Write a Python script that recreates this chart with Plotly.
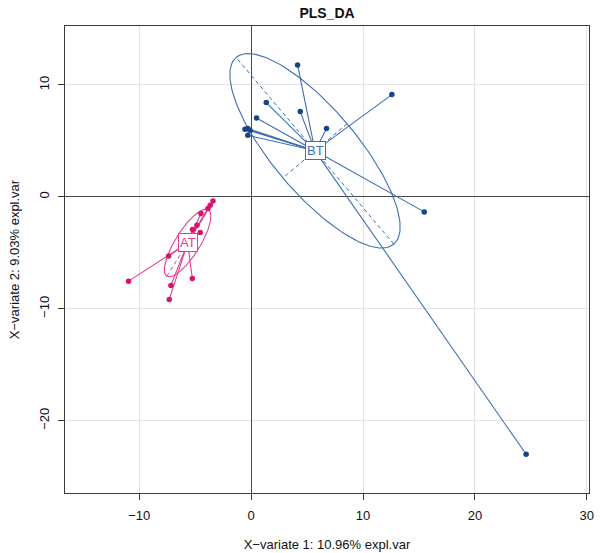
import numpy as np
import plotly.graph_objects as go

# ---- data ----
groups = ["AT", "BT"]
at_x = [-3.41, -3.66, -3.86, -4.49, -4.84, -5.24, -4.55, -7.38, -10.96, -5.26, -7.17, -7.32]
at_y = [-0.36, -0.74, -1.04, -1.48, -2.53, -2.91, -3.18, -5.29, -7.53, -7.29, -7.91, -9.16]
bt_x = [4.15, 12.58, 1.35, 4.39, 0.48, 6.74, 15.47, 24.58, -0.55, -0.30, -0.10, -0.30]
bt_y = [11.79, 9.14, 8.43, 7.62, 7.05, 6.10, -1.34, -23.00, 6.05, 6.10, 5.95, 5.50]

x_ticks = [-10, 0, 10, 20, 30]
y_ticks = [-20, -10, 0, 10]
title = "PLS_DA"
x_label = "X\u2212variate 1: 10.96% expl.var"
y_label = "X\u2212variate 2: 9.03% expl.var"

line_colors = {"AT": "#e0408f", "BT": "#3d6fb3"}
point_colors = {"AT": "#d8136f", "BT": "#16448a"}

FONT = "Liberation Sans, Arial, sans-serif"

fig = go.Figure()


def add_group(name, xs, ys):
    xs = np.asarray(xs, float)
    ys = np.asarray(ys, float)
    cx, cy = xs.mean(), ys.mean()
    cov = np.cov(np.vstack([xs, ys]), bias=True)
    vals, vecs = np.linalg.eigh(cov)
    order = np.argsort(vals)[::-1]
    vals, vecs = vals[order], vecs[:, order]
    sds = np.sqrt(vals)
    t = np.linspace(0, 2 * np.pi, 200)
    ex = cx + sds[0] * np.cos(t) * vecs[0, 0] + sds[1] * np.sin(t) * vecs[0, 1]
    ey = cy + sds[0] * np.cos(t) * vecs[1, 0] + sds[1] * np.sin(t) * vecs[1, 1]
    lc = line_colors[name]
    # ellipse
    fig.add_trace(go.Scatter(x=ex, y=ey, mode="lines",
                             line=dict(color=lc, width=1.1), hoverinfo="skip", showlegend=False))
    # ellipse axes (dashed)
    ax_x, ax_y = [], []
    for k in range(2):
        ax_x += [cx - sds[k] * vecs[0, k], cx + sds[k] * vecs[0, k], None]
        ax_y += [cy - sds[k] * vecs[1, k], cy + sds[k] * vecs[1, k], None]
    fig.add_trace(go.Scatter(x=ax_x, y=ax_y, mode="lines",
                             line=dict(color=lc, width=1, dash="4px,3px"),
                             hoverinfo="skip", showlegend=False))
    # stars
    sx, sy = [], []
    for x, y in zip(xs, ys):
        sx += [cx, x, None]
        sy += [cy, y, None]
    fig.add_trace(go.Scatter(x=sx, y=sy, mode="lines",
                             line=dict(color=lc, width=1.1), hoverinfo="skip", showlegend=False))
    # points
    fig.add_trace(go.Scatter(x=xs, y=ys, mode="markers", name=name,
                             marker=dict(color=point_colors[name], size=5.5),
                             showlegend=False))
    fig.add_annotation(x=cx, y=cy, text=name, showarrow=False,
                       font=dict(family=FONT, size=13, color=lc),
                       bgcolor="white", bordercolor=lc, borderwidth=1, borderpad=1)


add_group("AT", at_x, at_y)
add_group("BT", bt_x, bt_y)

axis_common = dict(
    automargin=False,
    showgrid=True, gridcolor="#e3e3e3", gridwidth=1,
    zeroline=True, zerolinecolor="#4a4a4a", zerolinewidth=1.4,
    showline=True, linecolor="#3a3a3a", linewidth=1.2, mirror=True,
    ticks="outside", ticklen=6, tickcolor="#3a3a3a",
    tickfont=dict(family=FONT, size=13, color="#111111"),
)

fig.update_layout(
    width=600, height=553,
    margin=dict(l=65, r=11, t=26, b=60, autoexpand=False),
    paper_bgcolor="white", plot_bgcolor="white",
    title=dict(text="<b>" + title + "</b>", x=(65 + 589) / 2 / 600, xanchor="center",
               y=1 - 13 / 553, yanchor="middle",
               font=dict(family=FONT, size=14, color="#111111")),
    xaxis=dict(range=[-16.64, 30.2], tickvals=x_ticks,
               title=dict(text=x_label, font=dict(family=FONT, size=13, color="#111111"), standoff=18),
               ticklabelstandoff=4, **axis_common),
    yaxis=dict(range=[-26.46, 15.27], tickvals=y_ticks, tickangle=-90,
               title=dict(text=y_label, font=dict(family=FONT, size=13, color="#111111"), standoff=14),
               ticklabelstandoff=4, **axis_common),
)

fig.write_html("out.html", config={"displayModeBar": False},
               post_script="document.body.style.margin='0';document.body.style.overflow='hidden';")
